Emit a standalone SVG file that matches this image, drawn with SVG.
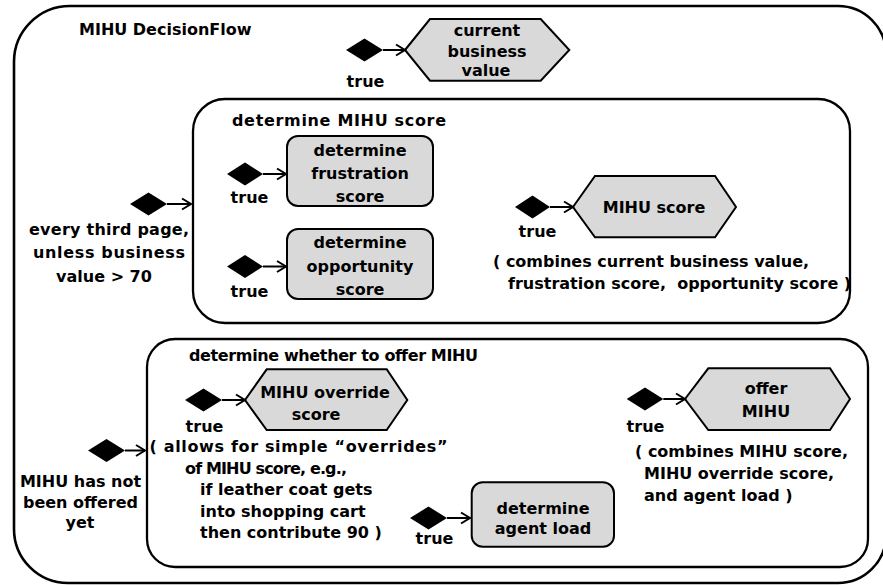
<svg xmlns="http://www.w3.org/2000/svg" width="883" height="585" viewBox="0 0 883 585">
  <style>
    text { font-family: "DejaVu Sans", "Liberation Sans", sans-serif; font-weight: bold; font-size: 16px; fill: #000; }
    .mid { text-anchor: middle; }
    .frame { fill: none; stroke: #000; stroke-width: 2.6; }
    .group { fill: none; stroke: #000; stroke-width: 2.3; }
    .task { fill: #d9d9d9; stroke: #000; stroke-width: 2; }
    .guard { fill: #000; stroke: none; }
    .link { fill: none; stroke: #000; stroke-width: 2; marker-end: url(#head); }
  </style>
  <defs>
    <marker id="head" markerUnits="userSpaceOnUse" markerWidth="14" markerHeight="14" viewBox="0 0 14 14" refX="12" refY="7" orient="auto">
      <path d="M3,1.5 L12,7 L3,12.5" fill="none" stroke="#000" stroke-width="2"/>
    </marker>
  </defs>

  <!-- outer flow frame -->
  <g id="decision-flow">
    <path class="frame" d="M70,6 H838 A48,48 0 0 1 886,54 V535 A48,48 0 0 1 838,583 H68 A54,54 0 0 1 14,529 V62 A56,56 0 0 1 70,6 Z"/>
    <text x="79" y="35">MIHU DecisionFlow</text>
  </g>

  <!-- current business value -->
  <g id="current-business-value">
    <polygon class="guard" points="346,50 364.5,38.5 383,50 364.5,61.5"/>
    <text class="mid" x="365.5" y="87">true</text>
    <polygon class="task" points="405,50 430,19 540.7,19 569.3,50 540.7,80.7 430,80.7"/>
    <text class="mid" x="487" y="36">current</text>
    <text class="mid" x="487" y="56.5">business</text>
    <text class="mid" x="486" y="76">value</text>
  </g>

  <!-- determine MIHU score sub-flow -->
  <g id="determine-mihu-score">
    <polygon class="guard" points="130,204 148.5,192.5 167,204 148.5,215.5"/>
    <text class="mid" x="109" y="235" textLength="160">every third page,</text>
    <text class="mid" x="109" y="258" textLength="152">unless business</text>
    <text class="mid" x="104" y="281.5">value &gt; 70</text>
    <rect class="group" x="193" y="99" width="657" height="224" rx="32"/>
    <text x="232" y="126" textLength="214">determine MIHU score</text>
  </g>

  <g id="determine-frustration-score">
    <polygon class="guard" points="227,174 245,162.5 263,174 245,185.5"/>
    <text class="mid" x="249.5" y="202.5">true</text>
    <rect class="task" x="287" y="136" width="146" height="70" rx="11"/>
    <text class="mid" x="360" y="155.5">determine</text>
    <text class="mid" x="360" y="178.5">frustration</text>
    <text class="mid" x="360" y="201.5">score</text>
  </g>

  <g id="determine-opportunity-score">
    <polygon class="guard" points="227,266.5 245,255 263,266.5 245,278"/>
    <text class="mid" x="249.5" y="296.5">true</text>
    <rect class="task" x="287" y="229" width="146" height="70" rx="11"/>
    <text class="mid" x="360" y="247.5">determine</text>
    <text class="mid" x="360" y="271.5">opportunity</text>
    <text class="mid" x="360" y="295">score</text>
  </g>

  <g id="mihu-score">
    <polygon class="guard" points="515,207 532.5,195.5 550,207 532.5,218.5"/>
    <text class="mid" x="537.5" y="237">true</text>
    <polygon class="task" points="573,207 595,176 715,176 736,207 715,237.3 595,237.3"/>
    <text class="mid" x="654" y="213">MIHU score</text>
    <text x="493" y="266.5">( combines current business value,</text>
    <text x="508" y="289" xml:space="preserve">frustration score,  opportunity score )</text>
  </g>

  <!-- determine whether to offer MIHU sub-flow -->
  <g id="determine-offer">
    <polygon class="guard" points="88,450.5 106.5,439 125,450.5 106.5,462"/>
    <text class="mid" x="80.5" y="486.5">MIHU has not</text>
    <text class="mid" x="80.5" y="508">been offered</text>
    <text class="mid" x="80" y="528">yet</text>
    <rect class="group" x="147" y="339" width="721" height="228" rx="28"/>
    <text x="189" y="360.5" textLength="289">determine whether to offer MIHU</text>
  </g>

  <g id="mihu-override-score">
    <polygon class="guard" points="185,400 203.5,388.5 222,400 203.5,411.5"/>
    <text class="mid" x="204.5" y="431.5">true</text>
    <polygon class="task" points="245,400 266.7,369.3 386.7,369.3 407.3,400 386.7,430 266.7,430"/>
    <text class="mid" x="325" y="398">MIHU override</text>
    <text class="mid" x="316" y="420">score</text>
    <text x="149.5" y="452" textLength="298">( allows for simple “overrides”</text>
    <text x="185" y="473.5" textLength="162">of MIHU score, e.g.,</text>
    <text x="200" y="495">if leather coat gets</text>
    <text x="200" y="516.5">into shopping cart</text>
    <text x="200" y="538">then contribute 90 )</text>
  </g>

  <g id="determine-agent-load">
    <polygon class="guard" points="410,518 428.5,506.5 447,518 428.5,529.5"/>
    <text class="mid" x="434.5" y="544">true</text>
    <rect class="task" x="471.7" y="482.3" width="142.3" height="64.4" rx="11"/>
    <text class="mid" x="543" y="513.5">determine</text>
    <text class="mid" x="543" y="534">agent load</text>
  </g>

  <g id="offer-mihu">
    <polygon class="guard" points="626.7,399 645,387.5 663.3,399 645,410.5"/>
    <text class="mid" x="645.5" y="431.5">true</text>
    <polygon class="task" points="685,399 708.3,368.3 830,368.3 850,399 830,430 708.3,430"/>
    <text class="mid" x="766" y="394">offer</text>
    <text class="mid" x="766" y="417">MIHU</text>
    <text x="635" y="456.5">( combines MIHU score,</text>
    <text x="644" y="478.5">MIHU override score,</text>
    <text x="644" y="500.5">and agent load )</text>
  </g>

  <!-- guard arrows -->
  <g id="connectors">
    <line class="link" x1="383" y1="50" x2="405" y2="50"/>
    <line class="link" x1="167" y1="204" x2="191" y2="204"/>
    <line class="link" x1="263" y1="174" x2="286" y2="174"/>
    <line class="link" x1="263" y1="266.5" x2="286" y2="266.5"/>
    <line class="link" x1="550" y1="207" x2="573" y2="207"/>
    <line class="link" x1="125" y1="450.5" x2="145" y2="450.5"/>
    <line class="link" x1="222" y1="400" x2="245" y2="400"/>
    <line class="link" x1="447" y1="518" x2="470" y2="518"/>
    <line class="link" x1="663.3" y1="399" x2="685" y2="399"/>
  </g>
</svg>
